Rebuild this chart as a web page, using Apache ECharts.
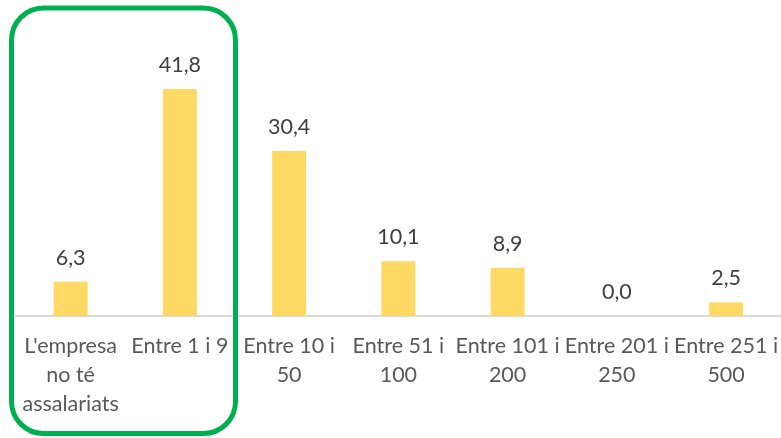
<!DOCTYPE html>
<html>
<head>
<meta charset="utf-8">
<script src="https://cdn.jsdelivr.net/npm/echarts@6/dist/echarts.min.js"></script>
<style>
html,body{margin:0;padding:0;background:#fff;}
#chart{width:781px;height:438px;}
</style>
</head>
<body>
<div id="chart"></div>
<script>
const categories = [
  "L'empresa\nno té\nassalariats",
  "Entre 1 i 9",
  "Entre 10 i\n50",
  "Entre 51 i\n100",
  "Entre 101 i\n200",
  "Entre 201 i\n250",
  "Entre 251 i\n500"
];
const values = [6.3, 41.8, 30.4, 10.1, 8.9, 0.0, 2.5];

const chart = echarts.init(document.getElementById('chart'));
chart.setOption({
  animation: false,
  backgroundColor: '#ffffff',
  grid: { left: 16, right: -1, top: 44.5, bottom: 122 },
  xAxis: {
    type: 'category',
    data: categories,
    axisLine: { lineStyle: { color: '#d9d9d9', width: 2 } },
    axisTick: { show: false },
    axisLabel: {
      interval: 0,
      color: '#595959',
      fontFamily: 'Lato',
      fontSize: 21.5,
      lineHeight: 29,
      margin: 16
    }
  },
  yAxis: {
    type: 'value',
    min: 0,
    max: 50,
    show: false,
    splitLine: { show: false }
  },
  series: [{
    type: 'bar',
    data: values,
    barWidth: 34,
    itemStyle: { color: '#FFD966' },
    label: {
      show: true,
      position: 'top',
      distance: 13,
      color: '#404040',
      fontFamily: 'Lato',
      fontSize: 21.5,
      formatter: p => p.value.toFixed(1).replace('.', ',')
    }
  }],
  graphic: [{
    type: 'rect',
    shape: { x: 11.5, y: 8, width: 224, height: 425.5, r: 32 },
    style: { fill: 'none', stroke: '#00B050', lineWidth: 5 },
    z: 100
  }]
});
</script>
</body>
</html>
